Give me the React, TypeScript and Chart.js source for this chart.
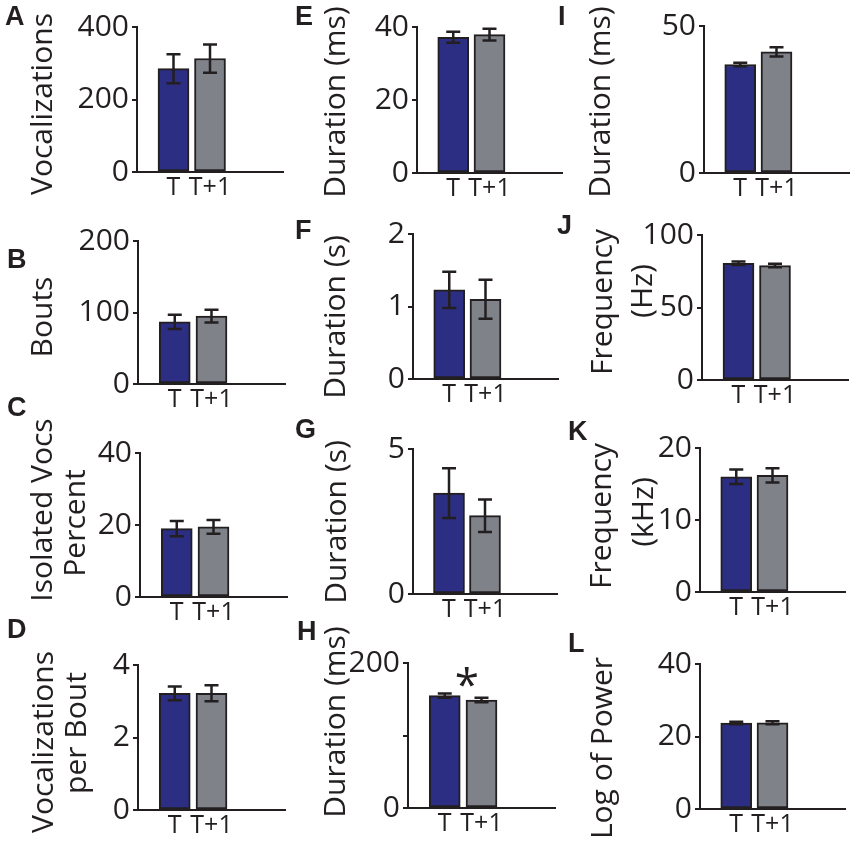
import { useEffect, useRef } from 'react';
import { Chart, registerables } from 'chart.js';

Chart.register(...registerables);

// Shared x categories for every panel
const categories = ['T', 'T+1'];

// Means and error bars
const vocalizations = [285, 313];
const vocalizationsErr = [40, 39];
const bouts = [87, 95];
const boutsErr = [10, 9];
const isolatedPct = [19.0, 19.5];
const isolatedPctErr = [2.1, 1.9];
const vocsPerBout = [3.22, 3.22];
const vocsPerBoutErr = [0.19, 0.22];
const durationE = [37.2, 37.9];
const durationEErr = [1.5, 1.6];
const durationF = [1.23, 1.1];
const durationFErr = [0.25, 0.27];
const durationG = [3.48, 2.7];
const durationGErr = [0.86, 0.56];
const durationH = [155, 149];
const durationHErr = [3, 3];
const durationI = [36.9, 41.2];
const durationIErr = [0.6, 1.6];
const frequencyJ = [80.5, 78.9];
const frequencyJErr = [1.2, 1.2];
const frequencyK = [16.0, 16.2];
const frequencyKErr = [1.0, 1.0];
const logPower = [23.7, 23.8];
const logPowerErr = [0.35, 0.4];

// y tick values and their labels
const ticksA = [0, 200, 400];
const ticksB = [0, 100, 200];
const ticksC = [0, 20, 40];
const ticksD = [0, 2, 4];
const ticksE = [0, 20, 40];
const ticksF = [0, 1, 2];
const ticksG = [0, 5];
const ticksH = [0, 100, 200];
const tickLabelsH = ['0', '', '200'];
const ticksI = [0, 50];
const ticksJ = [0, 50, 100];
const ticksK = [0, 10, 20];
const ticksL = [0, 20, 40];

// significance marker in H (x in category slots, T = 1)
const starH = { x: 1.6, y: 183, text: '*' };

const BLUE = '#2b2e83';
const GRAY = '#7f8389';
const INK = '#231f20';
const FONT = '"Open Sans", sans-serif';
const seriesColors = [BLUE, GRAY];

// the x axis runs on past the bars: one empty slot before, two after
const slots = ['', ...categories, '', ''];
const pad = <T,>(arr: T[]) => [null, ...arr, null, null];

interface TitleLine {
  text: string;
  x: number; // baseline x on the page
  y: number; // centre y on the page
}

interface PanelSpec {
  letter: string;
  letterPos: [number, number];
  titles: TitleLine[];
  values: number[];
  errors: number[];
  ticks: number[];
  tickLabels?: string[];
  star?: { x: number; y: number; text: string };
  box: { left: number; top: number; w: number; h: number };
  plot: { axisX: number; topY: number; zeroY: number; rightX: number };
}

const colLeft = [0, 287, 556];
const colWidth = [300, 300, 294];
const rowTop = [0, 205, 390, 600];
const rowHeight = [240, 240, 240, 241];

const box = (c: number, r: number) => ({ left: colLeft[c], top: rowTop[r], w: colWidth[c], h: rowHeight[r] });

const panels: PanelSpec[] = [
  {
    letter: 'A', letterPos: [5, 25],
    titles: [{ text: 'Vocalizations', x: 52, y: 104 }],
    values: vocalizations, errors: vocalizationsErr, ticks: ticksA,
    box: box(0, 0), plot: { axisX: 137, topY: 27, zeroY: 172, rightX: 283 },
  },
  {
    letter: 'B', letterPos: [7, 268],
    titles: [{ text: 'Bouts', x: 52, y: 317 }],
    values: bouts, errors: boutsErr, ticks: ticksB,
    box: box(0, 1), plot: { axisX: 138, topY: 241, zeroY: 384, rightX: 285 },
  },
  {
    letter: 'C', letterPos: [7, 416],
    titles: [
      { text: 'Isolated Vocs', x: 52, y: 510 },
      { text: 'Percent', x: 85, y: 523 },
    ],
    values: isolatedPct, errors: isolatedPctErr, ticks: ticksC,
    box: box(0, 2), plot: { axisX: 140, topY: 453, zeroY: 597, rightX: 287 },
  },
  {
    letter: 'D', letterPos: [7, 638],
    titles: [
      { text: 'Vocalizations', x: 53, y: 742 },
      { text: 'per Bout', x: 86, y: 733 },
    ],
    values: vocsPerBout, errors: vocsPerBoutErr, ticks: ticksD,
    box: box(0, 3), plot: { axisX: 138, topY: 665, zeroY: 810, rightX: 285 },
  },
  {
    letter: 'E', letterPos: [295, 25],
    titles: [{ text: 'Duration (ms)', x: 345, y: 102 }],
    values: durationE, errors: durationEErr, ticks: ticksE,
    box: box(1, 0), plot: { axisX: 417, topY: 27, zeroY: 173, rightX: 562 },
  },
  {
    letter: 'F', letterPos: [295, 239],
    titles: [{ text: 'Duration (s)', x: 345, y: 317 }],
    values: durationF, errors: durationFErr, ticks: ticksF,
    box: box(1, 1), plot: { axisX: 413, topY: 234, zeroY: 379, rightX: 558 },
  },
  {
    letter: 'G', letterPos: [295, 438],
    titles: [{ text: 'Duration (s)', x: 346, y: 522 }],
    values: durationG, errors: durationGErr, ticks: ticksG,
    box: box(1, 2), plot: { axisX: 413, topY: 449, zeroY: 594, rightX: 557 },
  },
  {
    letter: 'H', letterPos: [297, 640],
    titles: [{ text: 'Duration (ms)', x: 345, y: 722 }],
    values: durationH, errors: durationHErr, ticks: ticksH, tickLabels: tickLabelsH,
    star: starH,
    box: box(1, 3), plot: { axisX: 408, topY: 663, zeroY: 808, rightX: 555 },
  },
  {
    letter: 'I', letterPos: [558, 25],
    titles: [{ text: 'Duration (ms)', x: 610, y: 102 }],
    values: durationI, errors: durationIErr, ticks: ticksI,
    box: box(2, 0), plot: { axisX: 704, topY: 26, zeroY: 173, rightX: 850 },
  },
  {
    letter: 'J', letterPos: [557, 234],
    titles: [
      { text: 'Frequency', x: 612, y: 302 },
      { text: '(Hz)', x: 652, y: 291 },
    ],
    values: frequencyJ, errors: frequencyJErr, ticks: ticksJ,
    box: box(2, 1), plot: { axisX: 702, topY: 235, zeroY: 380, rightX: 848 },
  },
  {
    letter: 'K', letterPos: [568, 440],
    titles: [
      { text: 'Frequency', x: 611, y: 516 },
      { text: '(kHz)', x: 653, y: 512 },
    ],
    values: frequencyK, errors: frequencyKErr, ticks: ticksK,
    box: box(2, 2), plot: { axisX: 700, topY: 448, zeroY: 592, rightX: 845 },
  },
  {
    letter: 'L', letterPos: [568, 652],
    titles: [{ text: 'Log of Power', x: 612, y: 748 }],
    values: logPower, errors: logPowerErr, ticks: ticksL,
    box: box(2, 3), plot: { axisX: 700, topY: 664, zeroY: 809, rightX: 845 },
  },
];

const X_AXIS_HEIGHT = 30;

function Panel({ spec }: { spec: PanelSpec }) {
  const canvasRef = useRef<HTMLCanvasElement>(null);

  useEffect(() => {
    const canvas = canvasRef.current;
    if (!canvas) return;
    const { box: b, plot: p } = spec;

    // error bars, significance marker, panel letter and rotated axis titles
    const decorations = {
      id: 'decorations',
      afterDatasetsDraw(chart: Chart) {
        const { ctx } = chart;
        const yScale = chart.scales.y;
        const xScale = chart.scales.x;
        const meta = chart.getDatasetMeta(0);
        ctx.save();
        ctx.strokeStyle = INK;
        ctx.lineWidth = 2.5;
        spec.values.forEach((v, i) => {
          const bar: any = meta.data[i + 1];
          if (!bar) return;
          const hi = yScale.getPixelForValue(v + spec.errors[i]);
          const lo = yScale.getPixelForValue(v - spec.errors[i]);
          ctx.beginPath();
          ctx.moveTo(bar.x, hi);
          ctx.lineTo(bar.x, lo);
          ctx.moveTo(bar.x - 7, hi);
          ctx.lineTo(bar.x + 7, hi);
          ctx.moveTo(bar.x - 7, lo);
          ctx.lineTo(bar.x + 7, lo);
          ctx.stroke();
        });
        if (spec.star) {
          const size = 44;
          ctx.fillStyle = INK;
          ctx.font = `${size}px ${FONT}`;
          ctx.textAlign = 'center';
          ctx.textBaseline = 'alphabetic';
          ctx.fillText(
            spec.star.text,
            xScale.getPixelForValue(spec.star.x),
            yScale.getPixelForValue(spec.star.y) + size * 0.55
          );
        }
        ctx.restore();
      },
      afterDraw(chart: Chart) {
        const { ctx } = chart;
        ctx.save();
        ctx.fillStyle = INK;
        ctx.font = 'bold 27px "Liberation Sans", Arial, sans-serif';
        ctx.textAlign = 'left';
        ctx.textBaseline = 'alphabetic';
        ctx.fillText(spec.letter, spec.letterPos[0] - b.left, spec.letterPos[1] - b.top);

        ctx.font = `30px ${FONT}`;
        ctx.textAlign = 'center';
        spec.titles.forEach((t) => {
          ctx.save();
          ctx.translate(t.x - b.left, t.y - b.top);
          ctx.rotate(-Math.PI / 2);
          ctx.fillText(t.text, 0, 0);
          ctx.restore();
        });
        ctx.restore();
      },
    };

    const chart = new Chart(canvas, {
      type: 'bar',
      data: {
        labels: slots,
        datasets: [
          {
            data: pad(spec.values),
            backgroundColor: pad(seriesColors),
            borderColor: INK,
            borderWidth: 2,
            borderSkipped: false,
            barThickness: 31,
          },
        ],
      },
      options: {
        responsive: false,
        animation: false,
        layout: {
          padding: {
            left: 0,
            top: p.topY - b.top,
            right: b.left + b.w - p.rightX,
            bottom: b.top + b.h - p.zeroY - X_AXIS_HEIGHT,
          },
        },
        plugins: {
          legend: { display: false },
          tooltip: { enabled: false },
        },
        scales: {
          x: {
            type: 'category',
            offset: false,
            afterFit: (scale: any) => {
              scale.height = X_AXIS_HEIGHT;
            },
            ticks: {
              autoSkip: false,
              maxRotation: 0,
              padding: 1,
              color: INK,
              font: { family: FONT, size: 25 },
            },
            grid: { display: false, drawTicks: false, offset: false },
            border: { display: true, color: INK, width: 2 },
          },
          y: {
            min: spec.ticks[0],
            max: spec.ticks[spec.ticks.length - 1],
            afterBuildTicks: (scale: any) => {
              scale.ticks = spec.ticks.map((v) => ({ value: v }));
            },
            afterFit: (scale: any) => {
              scale.width = p.axisX - b.left;
            },
            ticks: {
              padding: 3,
              color: INK,
              font: { family: FONT, size: 30 },
              callback: (v: any, i: number) =>
                spec.tickLabels ? spec.tickLabels[i] : String(v),
            },
            grid: { drawOnChartArea: false, drawTicks: true, tickLength: 5, color: INK, lineWidth: 2 },
            border: { display: true, color: INK, width: 2 },
          },
        },
      },
      plugins: [decorations],
    });

    return () => chart.destroy();
  }, [spec]);

  return (
    <canvas
      ref={canvasRef}
      width={spec.box.w}
      height={spec.box.h}
      style={{ position: 'absolute', left: spec.box.left, top: spec.box.top }}
    />
  );
}

export default function App() {
  return (
    <div
      style={{
        position: 'absolute',
        left: 0,
        top: 0,
        width: 850,
        height: 841,
        background: '#ffffff',
        overflow: 'hidden',
      }}
    >
      {panels.map((p) => (
        <Panel key={p.letter} spec={p} />
      ))}
    </div>
  );
}
